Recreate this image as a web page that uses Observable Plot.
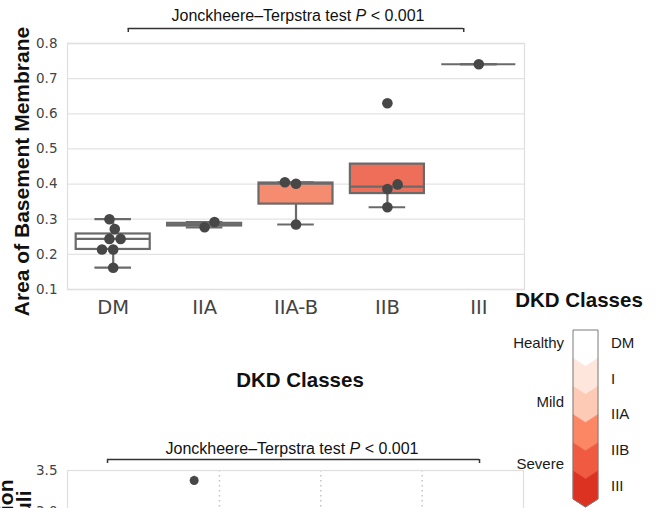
<!DOCTYPE html>
<html><head><meta charset="utf-8">
<script src="https://cdn.jsdelivr.net/npm/d3@7"></script>
<script src="https://cdn.jsdelivr.net/npm/@observablehq/plot@0.6"></script>
<style>
body{margin:0;background:#fff;}
#root{position:relative;width:655px;height:508px;overflow:hidden;background:#fff;font-family:"Liberation Sans",Arial,sans-serif;color:#111;}
.abs{position:absolute;}
.title{font-size:16px;white-space:nowrap;transform:translate(-50%,-50%);}
.btitle{font-weight:bold;font-size:20.5px;white-space:nowrap;transform:translate(-50%,-50%);}
svg{overflow:visible;}
</style></head><body>
<div id="root">
  <div id="bottomChart" class="abs" style="left:0;top:427px"></div>
  <div id="topChart" class="abs" style="left:0;top:0"></div>
  <div class="abs title" style="left:298px;top:16px">Jonckheere–Terpstra test <i>P</i> &lt; 0.001</div>
  <div class="abs title" style="left:292px;top:449px">Jonckheere–Terpstra test <i>P</i> &lt; 0.001</div>
  <div class="abs btitle" style="left:300px;top:380px">DKD Classes</div>
  <div class="abs btitle" style="left:579px;top:300px">DKD Classes</div>
  <svg id="legend" class="abs" style="left:0;top:0" width="655" height="508"></svg>
</div>
<script>
// ---------- data ----------
const classes = ["DM", "IIA", "IIA-B", "IIB", "III"];
const dmValues = [0.300, 0.272, 0.244, 0.244, 0.214, 0.214, 0.162];
const iiaValues = [0.277, 0.292];
const iiabValues = [0.405, 0.401, 0.285];
const iibValues = [0.630, 0.399, 0.386, 0.334];
const iiiValues = [0.741];
const groupValues = [dmValues, iiaValues, iiabValues, iibValues, iiiValues];
const boxFills = ["#ffffff", "#fcc8b2", "#f58b6f", "#ee6f59", "#dd3b29"];
const yTicks = [0.1, 0.2, 0.3, 0.4, 0.5, 0.6, 0.7, 0.8];
const yLabel = "Area of Basement Membrane";

const bottomYTicks = [1.5, 2.0, 2.5, 3.0, 3.5];
const bottomSeparators = [1, 2, 3];
const bottomPoints = [{x: 0.75, y: 3.378, lo: 3.33, hi: 3.43}];
const bottomLabelLine1 = "Proportion of Dilation";
const bottomLabelLine2 = "in Proximal Tubuli";

const legendColors = ["#ffffff", "#fee6dc", "#fdcab5", "#fb8764", "#ef5a41", "#dc3222"];
const legendClasses = ["DM", "I", "IIA", "IIB", "III"];
const severityLabels = ["Healthy", "Mild", "Severe"];
const severityAt = [0, 1.65, 3.4];

// ---------- top chart ----------
const W = 530, H = 320, ML = 67, MR = 6, MT = 43, MB = 31;
const yPx = (H - MT - MB) / 0.7;
const xPx = (W - ML - MR) / 5;
const boxHalf = 0.405, capHalf = 0.2;
const dotR = 5.3, swarmD = 11.2;

const stats = groupValues.map((vals, i) => {
  const s = vals.slice().sort(d3.ascending);
  const q1 = d3.quantileSorted(s, 0.25), med = d3.quantileSorted(s, 0.5), q3 = d3.quantileSorted(s, 0.75);
  const iqr = q3 - q1;
  let lo = d3.min(s.filter(v => v >= q1 - 1.5 * iqr));
  let hi = d3.max(s.filter(v => v <= q3 + 1.5 * iqr));
  lo = Math.min(lo, q1); hi = Math.max(hi, q3);
  return {i, q1, med, q3, lo, hi, fill: boxFills[i]};
});

function swarm(vals, pref) {
  const order = vals.map((v, k) => k).sort((a, b) => vals[a] - vals[b]);
  const placed = [];
  const out = [];
  for (const k of order) {
    const y = vals[k] * yPx;
    const cands = [0];
    for (const p of placed) {
      const dy = Math.abs(p.y - y);
      if (dy < swarmD) {
        const dx = Math.sqrt(swarmD * swarmD - dy * dy);
        cands.push(p.x - dx, p.x + dx);
      }
    }
    cands.sort((a, b) => (Math.abs(a) - Math.abs(b)) || (a - b) * (-pref));
    let chosen = cands[cands.length - 1];
    for (const c of cands) {
      if (placed.every(p => (p.x - c) ** 2 + (p.y - y) ** 2 >= swarmD * swarmD - 1e-6)) { chosen = c; break; }
    }
    placed.push({x: chosen, y});
    out.push({v: vals[k], off: chosen});
  }
  return out;
}
const dots = [];
groupValues.forEach((vals, i) => {
  swarm(vals, i % 2 ? 1 : -1).forEach(d => dots.push({i, v: d.v, off: d.off}));
});

const bracketFrom = 0, bracketTo = 4, bracketInset = 0.165;
const bracketY = 0.8 + 15 / yPx, bracketTickY = 0.8 + 11 / yPx;
const boxStroke = "#6a6a6a";

const topPlot = Plot.plot({
  width: W, height: H, marginLeft: ML, marginRight: MR, marginTop: MT, marginBottom: MB,
  style: {fontFamily: "DejaVu Sans", color: "#444", background: "transparent", overflow: "visible"},
  x: {domain: [-0.5, 4.5], axis: null},
  y: {domain: [0.1, 0.8], axis: null},
  marks: [
    Plot.gridY(yTicks, {stroke: "#e3e3e3", strokeOpacity: 1, strokeWidth: 1.3}),
    Plot.frame({stroke: "#e0e0e0", strokeWidth: 1.3}),
    Plot.axisY({ticks: yTicks, tickSize: 0, tickPadding: 10, fontSize: 13.5, label: null, tickFormat: d3.format(".1f"), fill: "#444"}),
    Plot.axisX({ticks: [0, 1, 2, 3, 4], tickFormat: i => classes[i], tickSize: 0, tickPadding: 11, fontSize: 19.5, label: null, fill: "#444"}),
    Plot.text([yLabel], {frameAnchor: "left", textAnchor: "middle", rotate: -90, dx: -45, dy: 5, fontSize: 21, fontWeight: "bold", fontFamily: "Liberation Sans", fill: "#111"}),
    Plot.ruleY([bracketY], {x1: bracketFrom + bracketInset, x2: bracketTo - bracketInset, stroke: "#333", strokeWidth: 1.5}),
    Plot.ruleX([bracketFrom + bracketInset, bracketTo - bracketInset], {y1: bracketY, y2: bracketTickY, stroke: "#333", strokeWidth: 1.5}),
    Plot.ruleX(stats, {x: "i", y1: "lo", y2: "q1", stroke: boxStroke, strokeWidth: 2.2}),
    Plot.ruleX(stats, {x: "i", y1: "q3", y2: "hi", stroke: boxStroke, strokeWidth: 2.2}),
    Plot.ruleY(stats, {y: "lo", x1: d => d.i - capHalf, x2: d => d.i + capHalf, stroke: boxStroke, strokeWidth: 2.2}),
    Plot.ruleY(stats, {y: "hi", x1: d => d.i - capHalf, x2: d => d.i + capHalf, stroke: boxStroke, strokeWidth: 2.2}),
    Plot.rect(stats, {x1: d => d.i - boxHalf, x2: d => d.i + boxHalf, y1: "q1", y2: "q3", fill: "fill", stroke: boxStroke, strokeWidth: 2.2}),
    Plot.ruleY(stats, {y: "med", x1: d => d.i - boxHalf, x2: d => d.i + boxHalf, stroke: boxStroke, strokeWidth: 2.2}),
    Plot.dot(dots, {x: d => d.i + d.off / xPx, y: "v", r: dotR, fill: "#474747", stroke: "none"})
  ]
});
document.getElementById("topChart").append(topPlot);

// ---------- bottom chart (partially visible) ----------
const BW = 530, BH = 238, BML = 67, BMR = 7, BMT = 43, BMB = 31;
const byPx = (BH - BMT - BMB) / 2.0;
const bBracketY = 3.5 + 11 / byPx, bBracketTickY = 3.5 + 7 / byPx;
const bBracketX1 = -0.105, bBracketX2 = 3.566;
const bottomPlot = Plot.plot({
  width: BW, height: BH, marginLeft: BML, marginRight: BMR, marginTop: BMT, marginBottom: BMB,
  style: {fontFamily: "DejaVu Sans", color: "#444", background: "transparent", overflow: "visible"},
  x: {domain: [-0.5, 4.0], axis: null},
  y: {domain: [1.5, 3.5], axis: null},
  marks: [
    Plot.ruleX(bottomSeparators, {stroke: "#c4c4c4", strokeWidth: 1.5, strokeDasharray: "1.5,3.5"}),
    Plot.frame({stroke: "#e0e0e0", strokeWidth: 1.3}),
    Plot.axisY({ticks: bottomYTicks, tickSize: 0, tickPadding: 10, fontSize: 13.5, label: null, tickFormat: d3.format(".1f"), fill: "#444"}),
    Plot.ruleY([bBracketY], {x1: bBracketX1, x2: bBracketX2, stroke: "#333", strokeWidth: 1.5}),
    Plot.ruleX([bBracketX1, bBracketX2], {y1: bBracketY, y2: bBracketTickY, stroke: "#333", strokeWidth: 1.5}),
    Plot.ruleX(bottomPoints, {x: "x", y1: "lo", y2: "hi", stroke: "#474747", strokeWidth: 1.5}),
    Plot.dot(bottomPoints, {x: "x", y: "y", r: 4.5, fill: "#474747", stroke: "none"}),
    Plot.text([bottomLabelLine1], {frameAnchor: "top-left", rotate: -90, textAnchor: "end", lineAnchor: "bottom", dx: -55, dy: 9, fontSize: 21, fontWeight: "bold", fontFamily: "Liberation Sans", fill: "#111"}),
    Plot.text([bottomLabelLine2], {frameAnchor: "top-left", rotate: -90, textAnchor: "end", lineAnchor: "bottom", dx: -37, dy: 20, fontSize: 21, fontWeight: "bold", fontFamily: "Liberation Sans", fill: "#111"})
  ]
});
document.getElementById("bottomChart").append(bottomPlot);

// ---------- legend ----------
const lg = d3.select("#legend");
const bx0 = 573, bx1 = 598, bxm = (bx0 + bx1) / 2, btop = 330, bbot = 499, tip = 8;
const seg = d3.scaleBand(d3.range(legendColors.length), [btop, bbot]);
legendColors.forEach((c, k) => {
  const t = seg(k), b = t + seg.bandwidth();
  const pts = k === 0
    ? [[bx0, t], [bx1, t], [bx1, b], [bxm, b + tip], [bx0, b]]
    : [[bx0, t], [bxm, t + tip], [bx1, t], [bx1, b], [bxm, b + tip], [bx0, b]];
  lg.append("polygon").attr("points", pts.map(p => p.join(",")).join(" ")).attr("fill", c).attr("stroke", c).attr("stroke-width", 0.6);
});
lg.append("path")
  .attr("d", `M${bx0},${btop}H${bx1}V${bbot}L${bxm},${bbot + tip}L${bx0},${bbot}Z`)
  .attr("fill", "none").attr("stroke", "#7a7a7a").attr("stroke-width", 1);
const labY = d3.scalePoint(legendClasses, [342.7, 485]);
lg.selectAll("text.cls").data(legendClasses).join("text").attr("class", "cls")
  .attr("x", 611).attr("y", d => labY(d)).attr("dominant-baseline", "central")
  .attr("font-family", "Liberation Sans, Arial, sans-serif").attr("font-size", 15).attr("fill", "#1a1a1a").text(d => d);
const sevY = d3.scaleLinear([0, legendClasses.length - 1], [342.7, 485]);
lg.selectAll("text.sev").data(severityLabels).join("text").attr("class", "sev")
  .attr("x", 564).attr("y", (d, k) => sevY(severityAt[k])).attr("dominant-baseline", "central").attr("text-anchor", "end")
  .attr("font-family", "Liberation Sans, Arial, sans-serif").attr("font-size", 15).attr("fill", "#1a1a1a").text(d => d);
</script>
</body></html>
